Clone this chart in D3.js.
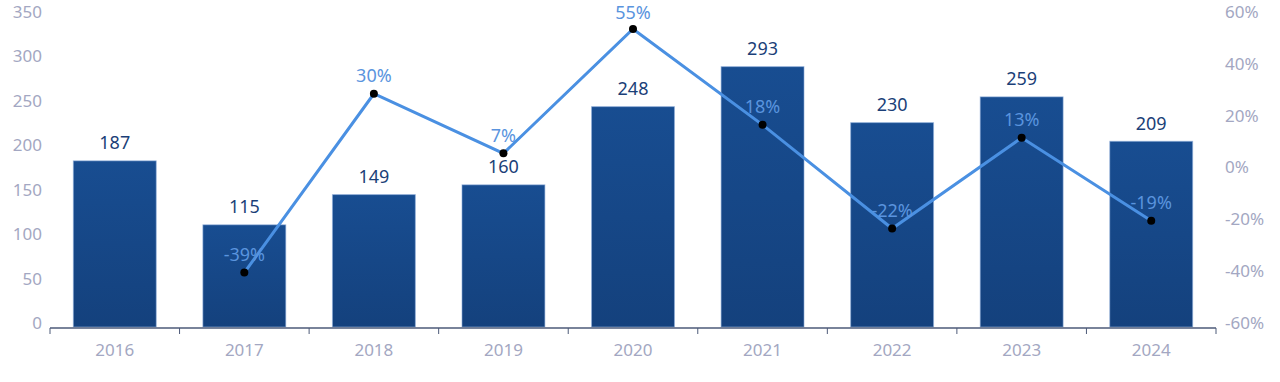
<!DOCTYPE html>
<html>
<head>
<meta charset="utf-8">
<script src="https://cdn.jsdelivr.net/npm/d3@7"></script>
<style>
  body { margin: 0; background: #fff; }
  text { font-family: "Noto Sans", sans-serif; }
</style>
</head>
<body>
<svg id="chart"></svg>
<script>
// Data
let years = ['2016', '2017', '2018', '2019', '2020', '2021', '2022', '2023', '2024'];
let counts = [187, 115, 149, 160, 248, 293, 230, 259, 209];
let growth = [null, -39, 30, 7, 55, 18, -22, 13, -19];
let leftTicks = [0, 50, 100, 150, 200, 250, 300, 350];
let rightTicks = [-60, -40, -20, 0, 20, 40, 60];

let svgWidth = 1280;
let svgHeight = 382;

let margin = { top: 16, right: 64, bottom: 55, left: 50 };
let width = svgWidth - margin.left - margin.right;
let height = svgHeight - margin.top - margin.bottom;

let svg = d3.select('#chart')
  .attr('width', svgWidth)
  .attr('height', svgHeight)
  .append('g')
  .attr('transform', 'translate(' + margin.left + ', ' + margin.top + ')');

// Gradient for bars
let defs = svg.append('defs');
let grad = defs.append('linearGradient')
  .attr('id', 'barGrad')
  .attr('x1', 0).attr('y1', 0).attr('x2', 0).attr('y2', 1);
grad.append('stop').attr('offset', '0%').attr('stop-color', '#184d91');
grad.append('stop').attr('offset', '100%').attr('stop-color', '#14417d');

// Scales
let xScale = d3.scaleBand()
  .domain(years)
  .range([0, width])
  .paddingInner(0.36)
  .paddingOuter(0.18);

let yScale = d3.scaleLinear()
  .domain([0, 350])
  .range([height, 0]);

let y2Scale = d3.scaleLinear()
  .domain([-60, 60])
  .range([height, 0]);

let step = width / years.length;

// Left axis labels
svg.append('g')
  .selectAll('text')
  .data(leftTicks)
  .enter()
  .append('text')
  .attr('x', -8)
  .attr('y', d => yScale(d) - 4)
  .attr('dy', '0.35em')
  .attr('text-anchor', 'end')
  .attr('fill', '#a3a7c2')
  .attr('font-size', '17px')
  .text(d => d);

// Right axis labels
svg.append('g')
  .selectAll('text')
  .data(rightTicks)
  .enter()
  .append('text')
  .attr('x', width + 9)
  .attr('y', d => y2Scale(d) - 4)
  .attr('dy', '0.35em')
  .attr('text-anchor', 'start')
  .attr('fill', '#a3a7c2')
  .attr('font-size', '17px')
  .text(d => d + '%');

// Bars
svg.selectAll('.bar')
  .data(counts)
  .enter()
  .append('rect')
  .attr('class', 'bar')
  .attr('x', (d, i) => xScale(years[i]))
  .attr('y', d => yScale(d))
  .attr('width', xScale.bandwidth())
  .attr('height', d => height - yScale(d))
  .attr('fill', 'url(#barGrad)')
  .attr('stroke', '#8eaedb')
  .attr('stroke-opacity', 0.6)
  .attr('stroke-width', 1);

// Bar value labels
svg.selectAll('.bar-label')
  .data(counts)
  .enter()
  .append('text')
  .attr('class', 'bar-label')
  .attr('x', (d, i) => xScale(years[i]) + xScale.bandwidth() / 2)
  .attr('y', d => yScale(d) - 18)
  .attr('dy', '0.35em')
  .attr('text-anchor', 'middle')
  .attr('fill', '#1b3f78')
  .attr('font-size', '18px')
  .text(d => d);

// X axis
let xAxis = svg.append('g')
  .attr('transform', 'translate(0, ' + (height + 1) + ')');

xAxis.append('line')
  .attr('x1', 0).attr('x2', width)
  .attr('y1', 0).attr('y2', 0)
  .attr('stroke', '#4d5a78')
  .attr('stroke-width', 1.5);

xAxis.selectAll('.tick')
  .data(d3.range(years.length + 1))
  .enter()
  .append('line')
  .attr('x1', d => d * step).attr('x2', d => d * step)
  .attr('y1', 0).attr('y2', 6)
  .attr('stroke', '#4d5a78')
  .attr('stroke-width', 1);

xAxis.selectAll('.xlabel')
  .data(years)
  .enter()
  .append('text')
  .attr('x', d => xScale(d) + xScale.bandwidth() / 2)
  .attr('y', 22)
  .attr('dy', '0.35em')
  .attr('text-anchor', 'middle')
  .attr('fill', '#a3a7c2')
  .attr('font-size', '17px')
  .text(d => d);

// Growth line
let lineData = years.map((y, i) => ({ year: y, value: growth[i] })).filter(d => d.value !== null);

let line = d3.line()
  .x(d => xScale(d.year) + xScale.bandwidth() / 2)
  .y(d => y2Scale(d.value));

svg.append('path')
  .datum(lineData)
  .attr('d', line)
  .attr('fill', 'none')
  .attr('stroke', '#4a90e2')
  .attr('stroke-width', 3);

// Growth labels (kept inside the top edge)
svg.selectAll('.growth-label')
  .data(lineData)
  .enter()
  .append('text')
  .attr('class', 'growth-label')
  .attr('x', d => xScale(d.year) + xScale.bandwidth() / 2)
  .attr('y', d => Math.max(y2Scale(d.value) - 18, -3))
  .attr('dy', '0.35em')
  .attr('text-anchor', 'middle')
  .attr('fill', '#5a94de')
  .attr('font-size', '18px')
  .text(d => d.value + '%');

// Dots
svg.selectAll('.dot')
  .data(lineData)
  .enter()
  .append('circle')
  .attr('class', 'dot')
  .attr('cx', d => xScale(d.year) + xScale.bandwidth() / 2)
  .attr('cy', d => y2Scale(d.value))
  .attr('r', 4)
  .attr('fill', '#000');
</script>
</body>
</html>
